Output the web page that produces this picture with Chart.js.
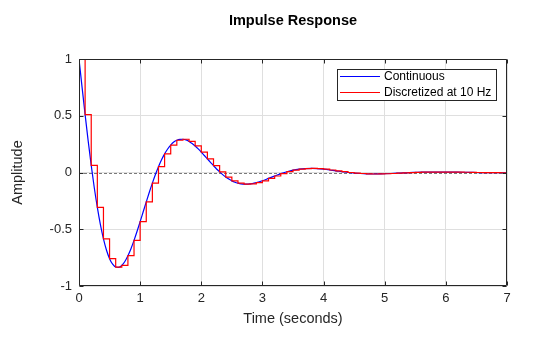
<!DOCTYPE html>
<html>
<head>
<meta charset="utf-8">
<script src="https://cdn.jsdelivr.net/npm/chart.js@4"></script>
<style>
  html, body { margin: 0; padding: 0; background: #ffffff; }
  canvas { display: block; }
</style>
</head>
<body>
<canvas id="chart" width="560" height="337"></canvas>
<script>
// Continuous-time impulse response (seconds, amplitude)
const contTimes = [
  0, 0.05, 0.1, 0.15, 0.2, 0.25, 0.3, 0.35, 0.4, 0.45, 0.5, 0.55, 0.6, 0.65, 0.7, 0.75,
  0.8, 0.85, 0.9, 0.95, 1.0, 1.05, 1.1, 1.15, 1.2, 1.25, 1.3, 1.35, 1.4, 1.45, 1.5, 1.55,
  1.6, 1.65, 1.7, 1.75, 1.8, 1.85, 1.9, 1.95, 2.0, 2.05, 2.1, 2.15, 2.2, 2.25, 2.3, 2.35,
  2.4, 2.45, 2.5, 2.55, 2.6, 2.65, 2.7, 2.75, 2.8, 2.85, 2.9, 2.95, 3.0,
  3.1, 3.2, 3.3, 3.4, 3.5, 3.6, 3.7, 3.8, 3.9, 4.0, 4.1, 4.2, 4.3, 4.4, 4.5, 4.6, 4.7,
  4.8, 4.9, 5.0, 5.1, 5.2, 5.3, 5.4, 5.5, 5.6, 5.7, 5.8, 5.9, 6.0, 6.1, 6.2, 6.3, 6.4,
  6.5, 6.6, 6.7, 6.8, 6.9, 7.0
];
const contValues = [
  1.000, 0.752, 0.510, 0.279, 0.063, -0.134, -0.308, -0.459, -0.585, -0.685, -0.759, -0.808,
  -0.833, -0.836, -0.819, -0.784, -0.733, -0.671, -0.598, -0.518, -0.433, -0.346, -0.259, -0.174,
  -0.094, -0.018, 0.051, 0.112, 0.164, 0.207, 0.242, 0.268, 0.284, 0.292, 0.293, 0.287,
  0.274, 0.256, 0.234, 0.208, 0.180, 0.150, 0.120, 0.090, 0.060, 0.031, 0.005, -0.019,
  -0.040, -0.058, -0.074, -0.086, -0.094, -0.100, -0.103, -0.103, -0.100, -0.096, -0.089, -0.082,
  -0.073,
  -0.052, -0.031, -0.010, 0.007, 0.021, 0.030, 0.035, 0.036, 0.034, 0.029, 0.022, 0.014,
  0.008, 0.000, -0.005, -0.009, -0.012, -0.013, -0.012, -0.011, -0.009, -0.006, -0.004, -0.001,
  0.001, 0.003, 0.004, 0.004, 0.004, 0.004, 0.0035, 0.003, 0.002, 0.001, 0.000, -0.001,
  -0.001, -0.001, -0.002, -0.002
];

// Discretized system sampled at 10 Hz (held between samples)
const sampleTimes = [
  0, 0.1, 0.2, 0.3, 0.4, 0.5, 0.6, 0.7, 0.8, 0.9, 1.0, 1.1, 1.2, 1.3, 1.4, 1.5, 1.6, 1.7,
  1.8, 1.9, 2.0, 2.1, 2.2, 2.3, 2.4, 2.5, 2.6, 2.7, 2.8, 2.9, 3.0, 3.1, 3.2, 3.3, 3.4, 3.5,
  3.6, 3.7, 3.8, 3.9, 4.0, 4.1, 4.2, 4.3, 4.4, 4.5, 4.6, 4.7, 4.8, 4.9, 5.0, 5.1, 5.2, 5.3,
  5.4, 5.5, 5.6, 5.7, 5.8, 5.9, 6.0, 6.1, 6.2, 6.3, 6.4, 6.5, 6.6, 6.7, 6.8, 6.9, 7.0
];
const sampleValues = [
  1.000, 0.510, 0.063, -0.308, -0.585, -0.759, -0.833, -0.819, -0.733, -0.598, -0.433,
  -0.259, -0.094, 0.051, 0.164, 0.242, 0.284, 0.293, 0.274, 0.234, 0.180,
  0.120, 0.060, 0.005, -0.040, -0.074, -0.094, -0.103, -0.100, -0.089, -0.073,
  -0.052, -0.031, -0.010, 0.007, 0.021, 0.030, 0.035, 0.036, 0.034, 0.029,
  0.022, 0.014, 0.008, 0.000, -0.005, -0.009, -0.012, -0.013, -0.012, -0.011,
  -0.009, -0.006, -0.004, -0.001, 0.001, 0.003, 0.004, 0.004, 0.004, 0.004,
  0.0035, 0.003, 0.002, 0.001, 0.000, -0.001, -0.001, -0.001, -0.002, -0.002
];

const xTicks = [0, 1, 2, 3, 4, 5, 6, 7];
const xTickLabels = ['0', '1', '2', '3', '4', '5', '6', '7'];
const yTicks = [-1, -0.5, 0, 0.5, 1];
const yTickLabels = ['-1', '-0.5', '0', '0.5', '1'];

const titleText = 'Impulse Response';
const xAxisTitle = 'Time (seconds)';
const yAxisTitle = 'Amplitude';

const FONT = 'Arial, "Liberation Sans", Helvetica, sans-serif';
const AXIS_COLOR = '#262626';
const BLUE = '#0000ff';
const RED = '#ff0000';

const toPoints = (xs, ys) => xs.map((x, i) => ({ x: x, y: ys[i] }));

// Axes box, inward tick marks, zero reference line, titles and legend
const axesDecor = {
  id: 'axesDecor',
  beforeDatasetsDraw(chart) {
    const { ctx, chartArea: a, scales } = chart;
    const y0 = Math.round(scales.y.getPixelForValue(0)) + 0.5;
    ctx.save();
    ctx.strokeStyle = '#7a7a7a';
    ctx.lineWidth = 1;
    ctx.setLineDash([3, 2]);
    ctx.beginPath();
    ctx.moveTo(a.left, y0);
    ctx.lineTo(a.right, y0);
    ctx.stroke();
    ctx.restore();
  },
  afterDatasetsDraw(chart) {
    const { ctx, chartArea: a, scales } = chart;
    const L = Math.round(a.left) + 0.5, R = Math.round(a.right) - 0.5;
    const T = Math.round(a.top) + 0.5, B = Math.round(a.bottom) - 0.5;
    const tickLen = 4;
    ctx.save();
    ctx.strokeStyle = AXIS_COLOR;
    ctx.lineWidth = 1;
    ctx.beginPath();
    ctx.rect(L, T, R - L, B - T);
    xTicks.forEach(v => {
      const px = Math.round(scales.x.getPixelForValue(v)) + 0.5;
      ctx.moveTo(px, B); ctx.lineTo(px, B - tickLen);
      ctx.moveTo(px, T); ctx.lineTo(px, T + tickLen);
    });
    yTicks.forEach(v => {
      const py = Math.round(scales.y.getPixelForValue(v)) + 0.5;
      ctx.moveTo(L, py); ctx.lineTo(L + tickLen, py);
      ctx.moveTo(R, py); ctx.lineTo(R - tickLen, py);
    });
    ctx.stroke();

    // Title and axis titles
    const cx = (a.left + a.right) / 2;
    const cy = (a.top + a.bottom) / 2;
    ctx.fillStyle = '#000000';
    ctx.textAlign = 'center';
    ctx.textBaseline = 'alphabetic';
    ctx.font = 'bold 14.5px ' + FONT;
    ctx.fillText(titleText, cx, 25);
    ctx.fillStyle = AXIS_COLOR;
    ctx.font = '14.5px ' + FONT;
    ctx.fillText(xAxisTitle, cx, 323);
    ctx.save();
    ctx.translate(22, cy);
    ctx.rotate(-Math.PI / 2);
    ctx.fillText(yAxisTitle, 0, 0);
    ctx.restore();

    // Legend
    const entries = [
      { label: chart.data.datasets[1].label, color: chart.data.datasets[1].borderColor },
      { label: chart.data.datasets[0].label, color: chart.data.datasets[0].borderColor }
    ];
    const bx = 337.5, by = 69.5, bw = 159, bh = 31;
    ctx.fillStyle = '#ffffff';
    ctx.fillRect(bx, by, bw, bh);
    ctx.strokeStyle = AXIS_COLOR;
    ctx.strokeRect(bx, by, bw, bh);
    ctx.font = '12px ' + FONT;
    ctx.textAlign = 'left';
    ctx.textBaseline = 'middle';
    entries.forEach((e, i) => {
      const ly = 76.5 + i * 16;
      ctx.strokeStyle = e.color;
      ctx.beginPath();
      ctx.moveTo(340, ly);
      ctx.lineTo(380, ly);
      ctx.stroke();
      ctx.fillStyle = '#000000';
      ctx.fillText(e.label, 384, ly);
    });
    ctx.restore();
  }
};

new Chart(document.getElementById('chart').getContext('2d'), {
  type: 'line',
  data: {
    datasets: [
      {
        label: 'Discretized at 10 Hz',
        data: toPoints(sampleTimes, sampleValues),
        borderColor: RED,
        borderWidth: 1.2,
        stepped: true,
        pointRadius: 0,
        fill: false,
        order: 0
      },
      {
        label: 'Continuous',
        data: toPoints(contTimes, contValues),
        borderColor: BLUE,
        borderWidth: 1.2,
        cubicInterpolationMode: 'monotone',
        pointRadius: 0,
        fill: false,
        order: 1
      }
    ]
  },
  options: {
    responsive: false,
    animation: false,
    devicePixelRatio: 1,
    layout: { padding: { top: 59, right: 53, left: 0, bottom: 0 } },
    plugins: {
      legend: { display: false },
      tooltip: { enabled: false },
      title: { display: false }
    },
    scales: {
      x: {
        type: 'linear',
        min: 0,
        max: 7,
        afterFit(s) { s.height = 51; },
        afterBuildTicks(s) { s.ticks = xTicks.map(v => ({ value: v })); },
        ticks: {
          callback: (v, i) => xTickLabels[i],
          font: { family: FONT, size: 13 },
          color: AXIS_COLOR,
          padding: 5,
          maxRotation: 0,
          autoSkip: false
        },
        grid: { color: '#dfdfdf', drawTicks: false },
        border: { display: false }
      },
      y: {
        type: 'linear',
        min: -1,
        max: 1,
        afterFit(s) { s.width = 79; },
        afterBuildTicks(s) { s.ticks = yTicks.map(v => ({ value: v })); },
        ticks: {
          callback: (v, i) => yTickLabels[i],
          font: { family: FONT, size: 13 },
          color: AXIS_COLOR,
          padding: 7,
          autoSkip: false
        },
        grid: { color: '#dfdfdf', drawTicks: false },
        border: { display: false }
      }
    }
  },
  plugins: [axesDecor]
});
</script>
</body>
</html>
